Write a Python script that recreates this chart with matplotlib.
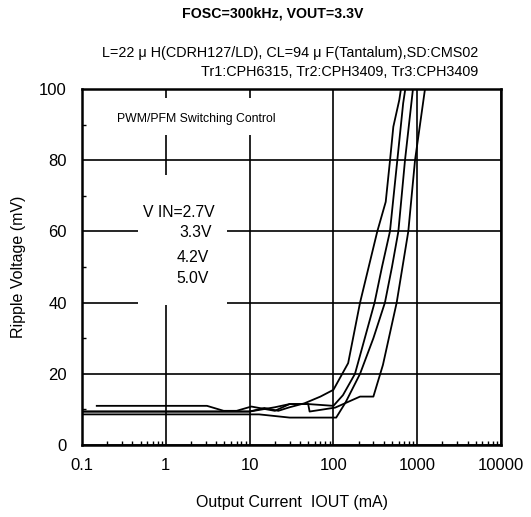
import matplotlib
matplotlib.use("Agg")
import matplotlib.pyplot as plt
from matplotlib.ticker import LogLocator, FixedLocator, NullFormatter, FixedFormatter
from matplotlib.patches import Rectangle

plt.rcParams['font.family'] = ['Liberation Sans', 'DejaVu Sans']

# ---- data ----
i_27 = [0.1, 10, 15, 22, 30, 45, 70, 100, 150, 208, 334, 421, 474, 519, 611, 640]
v_27 = [9.4, 9.4, 10.4, 9.6, 10.6, 11.7, 13.6, 15.5, 23.0, 40.0, 60.0, 68.3, 80.0, 89.4, 96.9, 100]

i_33 = [0.15, 3.1, 4.9, 7.0, 10.5, 20, 30, 50, 100, 130, 181, 310, 380, 473, 579, 680, 721]
v_33 = [11.0, 11.0, 9.6, 9.6, 10.8, 9.6, 11.5, 11.5, 11.0, 14.0, 20.0, 40.0, 50.0, 60.0, 80.0, 96.0, 100]

i_42 = [0.1, 13, 30, 108, 140, 208, 300, 412, 500, 596, 715, 890]
v_42 = [8.6, 8.6, 7.7, 7.7, 12.0, 20.0, 30.0, 40.0, 50.0, 60.0, 80.0, 100]

i_50 = [0.1, 10, 20, 30, 50, 52, 105, 208, 300, 390, 569, 783, 942, 1239]
v_50 = [9.4, 9.4, 10.6, 11.5, 11.5, 9.4, 10.5, 13.6, 13.6, 22.5, 40.0, 60.0, 80.0, 100]

x_ticks = [0.1, 1, 10, 100, 1000, 10000]
x_tick_labels = ["0.1", "1", "10", "100", "1000", "10000"]
y_ticks = [0, 20, 40, 60, 80, 100]
vin_labels = ["V IN=2.7V", "3.3V", "4.2V", "5.0V"]

W, H = 531, 517
fig = plt.figure(figsize=(W / 100, H / 100), dpi=100)
L, R, T, B = 82, 501, 89, 445
ax = fig.add_axes([L / W, 1 - B / H, (R - L) / W, (B - T) / H])

ax.set_xscale('log')
ax.set_xlim(0.1, 10000)
ax.set_ylim(0, 100)

for xs, ys in [(i_27, v_27), (i_33, v_33), (i_42, v_42), (i_50, v_50)]:
    ax.plot(xs, ys, color='black', lw=1.3, zorder=3, clip_on=True)

ax.xaxis.set_major_locator(FixedLocator(x_ticks))
ax.xaxis.set_major_formatter(FixedFormatter(x_tick_labels))
ax.xaxis.set_minor_locator(LogLocator(base=10, subs=[2, 3, 4, 5, 6, 7, 8, 9], numticks=20))
ax.xaxis.set_minor_formatter(NullFormatter())
ax.yaxis.set_major_locator(FixedLocator(y_ticks))
ax.yaxis.set_minor_locator(FixedLocator([10, 30, 50, 70, 90]))

ax.grid(True, which='major', color='black', lw=1.2)
ax.tick_params(which='major', direction='in', length=0, labelsize=12, pad=9)
ax.tick_params(which='minor', direction='in', length=3, width=1)
ax.tick_params(axis='y', pad=11)
for s in ax.spines.values():
    s.set_linewidth(1.8)
    s.set_zorder(5)

ax.set_xlabel("Output Current  IOUT (mA)", fontsize=11.5, labelpad=16)
ax.set_ylabel("Ripple Voltage (mV)", fontsize=11.5, labelpad=9)

# white boxes behind annotations
ax.add_patch(Rectangle((0.134, 0.393), 0.212, 0.365, transform=ax.transAxes,
                       facecolor='white', edgecolor='none', zorder=2))
ax.add_patch(Rectangle((0.07, 0.871), 0.44, 0.104, transform=ax.transAxes,
                       facecolor='white', edgecolor='none', zorder=2))

ax.text(0.272, 0.916, "PWM/PFM Switching Control", transform=ax.transAxes,
        ha='center', va='center', fontsize=8.8, zorder=4)
ax.text(0.1456, 0.654, vin_labels[0], transform=ax.transAxes, ha='left', va='center', fontsize=11.3, zorder=4)
ax.text(0.272, 0.598, vin_labels[1], transform=ax.transAxes, ha='center', va='center', fontsize=11.3, zorder=4)
ax.text(0.265, 0.528, vin_labels[2], transform=ax.transAxes, ha='center', va='center', fontsize=11.3, zorder=4)
ax.text(0.265, 0.469, vin_labels[3], transform=ax.transAxes, ha='center', va='center', fontsize=11.3, zorder=4)

fig.text(273 / W, 1 - 14 / H, "FOSC=300kHz, VOUT=3.3V", ha='center', va='center',
         fontsize=10.2, fontweight='bold')
fig.text(478 / W, 1 - 53 / H, "L=22 \u03bc H(CDRH127/LD), CL=94 \u03bc F(Tantalum),SD:CMS02",
         ha='right', va='center', fontsize=10.4)
fig.text(478 / W, 1 - 72 / H, "Tr1:CPH6315, Tr2:CPH3409, Tr3:CPH3409",
         ha='right', va='center', fontsize=10.4)

fig.savefig("out.png", dpi=100)
